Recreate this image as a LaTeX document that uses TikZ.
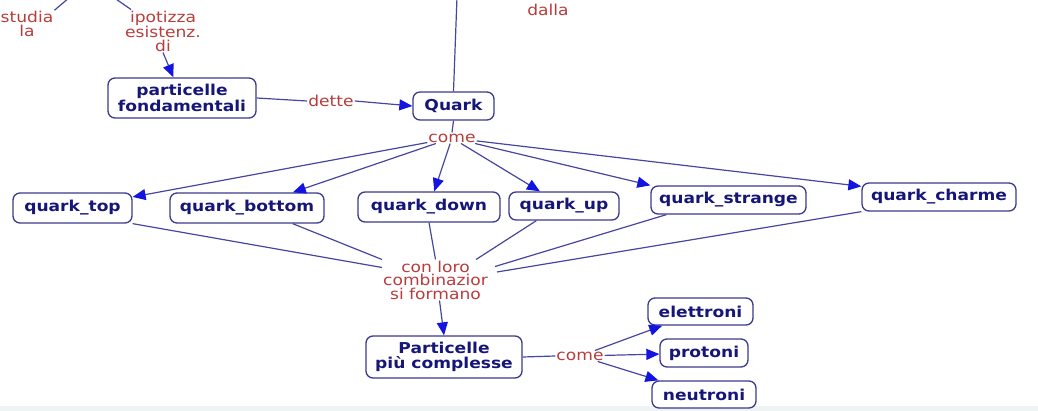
\documentclass[tikz,border=0pt]{standalone}
\usepackage{fontspec}
\setmainfont[FakeStretch=1.14]{DejaVu Sans}
\usetikzlibrary{arrows.meta}
\definecolor{nodeborder}{RGB}{58,58,140}
\definecolor{nodetext}{RGB}{22,22,120}
\definecolor{linkc}{RGB}{70,70,160}
\definecolor{tipc}{RGB}{20,20,225}
\definecolor{labelc}{RGB}{185,60,60}
\definecolor{stripc}{RGB}{238,243,243}
\begin{document}
\begin{tikzpicture}[x=1pt,y=-1pt,
  concept/.style={draw=nodeborder, line width=1.3pt, rounded corners=7pt, fill=white, text=nodetext,
    font=\fontsize{15pt}{14.5pt}\selectfont\bfseries, align=center, inner sep=0pt},
  lbl/.style={text=labelc, font=\fontsize{15pt}{13.5pt}\selectfont, align=center, inner sep=1pt},
  link/.style={draw=linkc, line width=1.2pt},
  arr/.style={link, -{Triangle[length=13pt,width=11pt,color=tipc]}},
]
\useasboundingbox (0,0) rectangle (1038,411);
\clip (0,0) rectangle (1038,411);
\fill[stripc] (0,406) rectangle (1038,411);

% concepts
\node[concept, minimum width=148pt, minimum height=40pt] (pf) at (182,98) {particelle\\fondamentali};
\node[concept, minimum width=81pt, minimum height=28pt] (quark) at (453.5,106) {Quark};
\node[concept, minimum width=119pt, minimum height=30pt] (qtop) at (72.5,208) {quark\_top};
\node[concept, minimum width=154pt, minimum height=30pt] (qbottom) at (247,208) {quark\_bottom};
\node[concept, minimum width=142pt, minimum height=30pt] (qdown) at (429,207) {quark\_down};
\node[concept, minimum width=110pt, minimum height=28pt] (qup) at (564,206) {quark\_up};
\node[concept, minimum width=155pt, minimum height=28pt] (qstrange) at (728.5,200) {quark\_strange};
\node[concept, minimum width=154pt, minimum height=28pt] (qcharme) at (939,197) {quark\_charme};
\node[concept, minimum width=156pt, minimum height=42pt] (pc) at (444,357) {Particelle\\più complesse};
\node[concept, minimum width=105pt, minimum height=27pt] (elettroni) at (700.5,311.5) {elettroni};
\node[concept, minimum width=88pt, minimum height=28pt] (protoni) at (704,353) {protoni};
\node[concept, minimum width=104pt, minimum height=27pt] (neutroni) at (704,394.5) {neutroni};

% labels
\node[lbl] (studia) at (27,24) {studia\\la};
\node[lbl] (ipot) at (163,31) {ipotizza\\esistenz.\\di};
\node[lbl] (dette) at (331,101) {dette};
\node[lbl] (dalla) at (548,10) {dalla};
\node[lbl] (come) at (452,138) {come};
\node[lbl] (conloro) at (435.5,280) {con loro\\combinazior\\si formano};
\node[lbl] (come2) at (580,356) {come};

% free ends at the top
\coordinate (topS) at (70,-3);
\coordinate (topI) at (113,-3);
\coordinate (topQ) at (457,-3);

% connectors
\draw[link] (studia.north east) -- (topS);
\draw[link] ([xshift=7pt]ipot.north west) -- (topI);
\draw[arr] (ipot.south) -- (pf);
\draw[link] (pf.east) -- (dette.west);
\draw[arr] (dette.east) -- (quark.west);
\draw[link] (quark.north) -- (topQ);
\draw[link] (quark.south) -- (come.north);

\draw[arr] (come) -- (qtop);
\draw[arr] (come) -- (qbottom);
\draw[arr] (come) -- (qdown);
\draw[arr] (come) -- (qup);
\draw[arr] (come) -- (qstrange.north west);
\draw[arr] (come) -- ([yshift=-4pt]qcharme.north west);

\draw[link] (qtop.south east) -- ([yshift=-8pt]conloro.north west);
\draw[link] ([xshift=-32pt]qbottom.south east) -- (conloro.north west);
\draw[link] (qdown.south) -- (conloro.north);
\draw[link] ([xshift=28pt]qup.south west) -- ([xshift=-13pt]conloro.north east);
\draw[link] ([xshift=16pt]qstrange.south west) -- ([xshift=6pt,yshift=-7pt]conloro.north east);
\draw[link] (qcharme.south west) -- ([xshift=8pt,yshift=8pt]conloro.east);

\draw[arr] ([xshift=4pt]conloro.south) -- (pc.north);
\draw[link] (pc.east) -- (come2.west);
\draw[arr] (come2) -- (elettroni);
\draw[arr] (come2) -- (protoni);
\draw[arr] (come2) -- (neutroni);
\end{tikzpicture}
\end{document}
